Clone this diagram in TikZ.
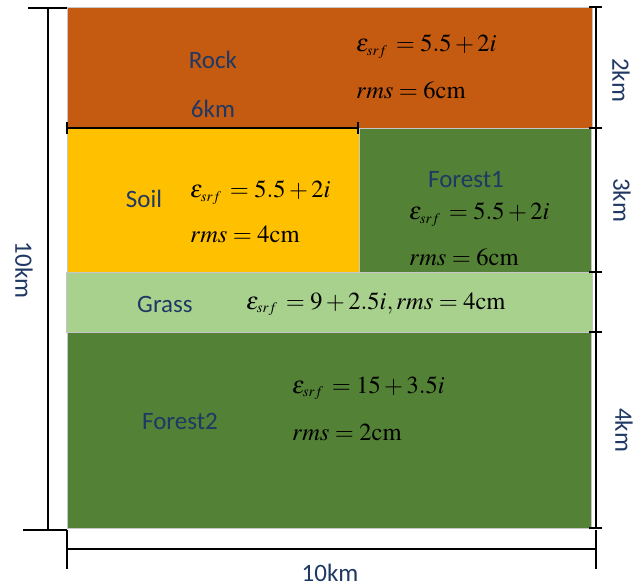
\documentclass[tikz,border=0pt]{standalone}
\usepackage{mathptmx}
\usepackage[no-math]{fontspec}
\setmainfont{Carlito}
\definecolor{rockc}{HTML}{C55A11}
\definecolor{soilc}{HTML}{FFC000}
\definecolor{forestc}{HTML}{538135}
\definecolor{grassc}{HTML}{A9D18E}
\definecolor{navy}{HTML}{1F3864}
\newcommand{\epsrf}{\varepsilon_{\scriptscriptstyle srf}\,}
\begin{document}
\begin{tikzpicture}[x=1pt,y=-1pt,
  layer/.style={draw=gray!45,line width=0.8pt},
  lbl/.style={text=navy,font=\fontsize{25}{28}\selectfont,inner sep=0pt},
  dimlbl/.style={text=navy,font=\fontsize{25}{28}\selectfont,inner sep=0pt,rotate=-90},
  eq/.style={font=\fontsize{24.5}{28}\selectfont,inner sep=0pt,anchor=west},
  dim/.style={line width=1.6pt,black}]
\useasboundingbox (0,0) rectangle (634,587);
% layers
\fill[rockc,layer] (67,7) rectangle (592,128);
\fill[soilc,layer] (67,128) rectangle (359,272);
\fill[forestc,layer] (359,128) rectangle (591,272);
\fill[grassc,layer] (66,272) rectangle (592,332);
\fill[forestc,layer] (67,332) rectangle (591,528);
% labels
\node[lbl] (rock) at (213,60) {Rock};
\node[eq] (rockeq1) at (356,47) {$\epsrf=5.5+2i$};
\node[eq] (rockeq2) at (356,90) {$rms=6\mathrm{cm}$};
\node[lbl] (six) at (213,109) {6km};
\node[lbl] (soil) at (144,199) {Soil};
\node[eq] (soileq1) at (190,193) {$\epsrf=5.5+2i$};
\node[eq] (soileq2) at (190,234) {$rms=4\mathrm{cm}$};
\node[lbl] (forest1) at (466,180) {Forest1};
\node[eq] (f1eq1) at (409,215) {$\epsrf=5.5+2i$};
\node[eq] (f1eq2) at (409,257) {$rms=6\mathrm{cm}$};
\node[lbl] (grass) at (165,304) {Grass};
\node[eq] (grasseq) at (246,304) {$\epsrf=9+2.5i,rms=4\mathrm{cm}$};
\node[lbl] (forest2) at (180,421) {Forest2};
\node[eq] (f2eq1) at (292,388) {$\epsrf=15+3.5i$};
\node[eq] (f2eq2) at (292,432) {$rms=2\mathrm{cm}$};
% 6km dimension
\coordinate (s1) at (67,128);
\coordinate (s2) at (358,128);
\draw[dim] (s1) -- (s2);
\draw[dim] (67,122) -- (67,134);
\draw[dim] (358,122) -- (358,134);
% left dimension
\coordinate (l1) at (48,8);
\coordinate (l2) at (48,530);
\draw[dim] (l1) -- (l2);
\draw[dim] (28,8) -- (67,8);
\draw[dim] (23,530) -- (67,530);
\node[dimlbl] (ten) at (24,270) {10km};
% right dimension
\coordinate (r1) at (596,7);
\coordinate (r2) at (596,528);
\draw[dim] (r1) -- (r2);
\foreach \yy in {7,128,272,332,528} \draw[dim] (589,\yy) -- (602,\yy);
\node[dimlbl] (two) at (621,80) {2km};
\node[dimlbl] (three) at (622,200) {3km};
\node[dimlbl] (four) at (624,430) {4km};
% bottom dimension
\coordinate (b1) at (67,549);
\coordinate (b2) at (596,549);
\draw[dim] (b1) -- (b2);
\draw[dim] (67,530) -- (67,569);
\draw[dim] (596,530) -- (596,569);
\node[lbl] (tenb) at (330,573) {10km};
\end{tikzpicture}
\end{document}
